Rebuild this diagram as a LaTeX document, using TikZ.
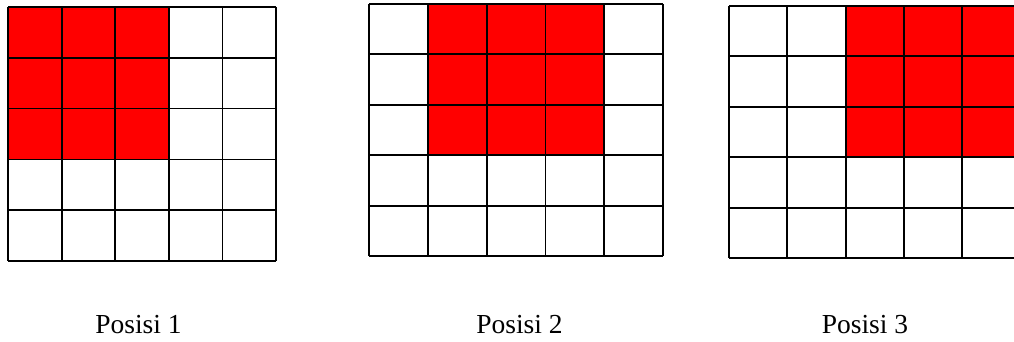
\documentclass[tikz,border=0pt]{standalone}
\usepackage{fontspec}
\setmainfont{Liberation Serif}
\begin{document}
\begin{tikzpicture}[x=1pt,y=-1pt,
  gridline/.style={draw=black,line width=1.8pt},
  redcell/.style={fill=red},
  lbl/.style={font=\fontsize{27.5}{30}\selectfont,anchor=base,inner sep=0pt}]
\useasboundingbox (0,0) rectangle (1014,342);
\clip (0,0) rectangle (1014,342);
% grid 1
\fill[redcell] (8,7) rectangle (168.8,159.4);
\foreach \i in {0,...,5} {\draw[gridline] (8+53.6*\i,7) -- (8+53.6*\i,261);}
\foreach \j in {0,...,5} {\draw[gridline] (8,7+50.8*\j) -- (276,7+50.8*\j);}
% grid 2
\fill[redcell] (427.8,4) rectangle (604.2,155.2);
\foreach \i in {0,...,5} {\draw[gridline] (369+58.8*\i,4) -- (369+58.8*\i,256);}
\foreach \j in {0,...,5} {\draw[gridline] (369,4+50.4*\j) -- (663,4+50.4*\j);}
% grid 3
\fill[redcell] (846,6) rectangle (1020,157.2);
\foreach \i in {0,...,5} {\draw[gridline] (729+58.3*\i,6) -- (729+58.3*\i,258);}
\foreach \j in {0,...,5} {\draw[gridline] (729,6+50.4*\j) -- (1020.5,6+50.4*\j);}
% labels
\node[lbl] (p1) at (138.5,333) {Posisi 1};
\node[lbl] (p2) at (519.5,333) {Posisi 2};
\node[lbl] (p3) at (865,333) {Posisi 3};
\end{tikzpicture}
\end{document}
